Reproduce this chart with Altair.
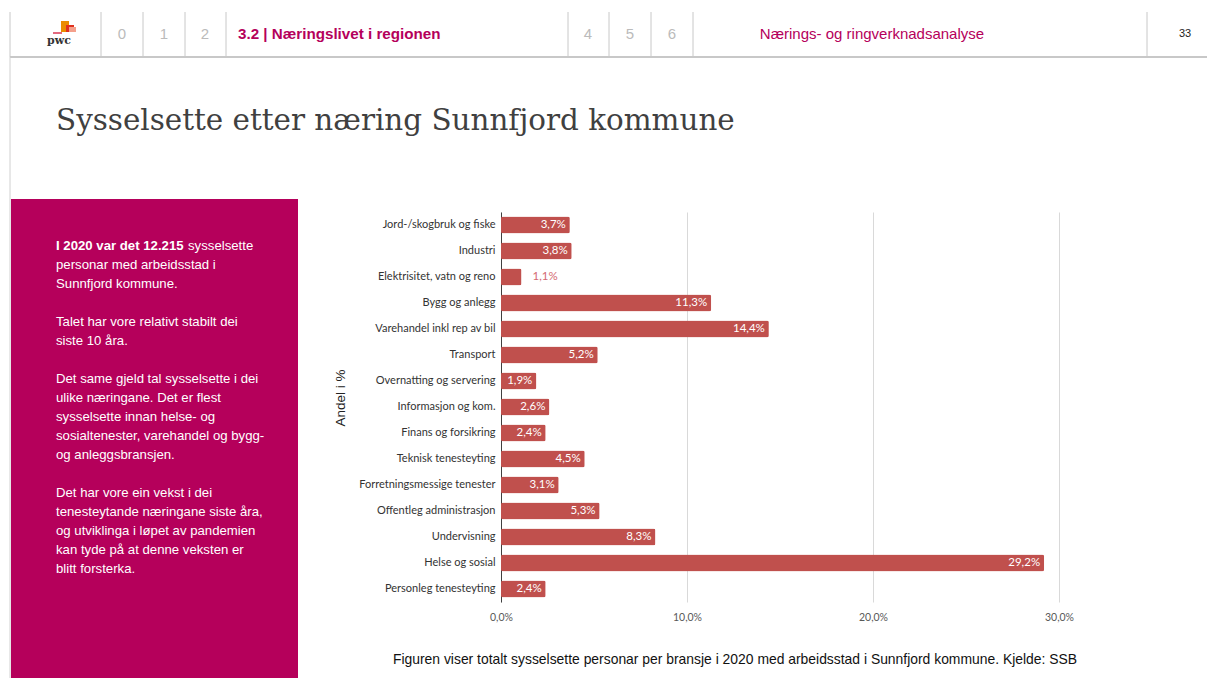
import altair as alt
import pandas as pd

# ---------------- data ----------------
categories = [
    "Jord-/skogbruk og fiske", "Industri", "Elektrisitet, vatn og reno",
    "Bygg og anlegg", "Varehandel inkl rep av bil", "Transport",
    "Overnatting og servering", "Informasjon og kom.", "Finans og forsikring",
    "Teknisk tenesteyting", "Forretningsmessige tenester",
    "Offentleg administrasjon", "Undervisning", "Helse og sosial",
    "Personleg tenesteyting",
]
shares = [3.7, 3.8, 1.1, 11.3, 14.4, 5.2, 1.9, 2.6, 2.4, 4.5, 3.1, 5.3, 8.3, 29.2, 2.4]
x_ticks = [0, 10, 20, 30]

title_text = "Sysselsette etter næring Sunnfjord kommune"
caption_text = ("Figuren viser totalt sysselsette personar per bransje i 2020 "
                "med arbeidsstad i Sunnfjord kommune. Kjelde: SSB")
y_title = "Andel i %"

header_tabs_left = ["0", "1", "2"]
header_active = "3.2 | Næringslivet i regionen"
header_tabs_right = ["4", "5", "6"]
header_section = "Nærings- og ringverknadsanalyse"
page_number = "33"

panel_first_bold = "I 2020 var det 12.215"
panel_first_rest = "sysselsette"
panel_par1 = ["personar med arbeidsstad i", "Sunnfjord kommune."]
panel_par2 = ["Talet har vore relativt stabilt dei", "siste 10 åra."]
panel_par3 = ["Det same gjeld tal sysselsette i dei", "ulike næringane. Det er flest",
              "sysselsette innan helse- og", "sosialtenester, varehandel og bygg-",
              "og anleggsbransjen."]
panel_par4 = ["Det har vore ein vekst i dei", "tenesteytande næringane siste åra,",
              "og utviklinga i løpet av pandemien", "kan tyde på at denne veksten er",
              "blitt forsterka."]

df = pd.DataFrame({"cat": categories, "share": shares})
df["label"] = [f"{v:.1f}".replace(".", ",") + "%" for v in shares]

# ---------------- layout (page pixels) ----------------
OX, OY = 501, 212          # plot-area origin on the page
PW, PH = 558, 390          # plot-area size
MAGENTA = "#B5005B"
BAR = "#C0504D"
SANS = "Liberation Sans"


def px(x):
    return x - OX


def py(y):
    return y - OY


one = pd.DataFrame({"k": [0]})


def rect(x1, y1, x2, y2, color):
    return alt.Chart(one).mark_rect(color=color).encode(
        x=alt.value(px(x1)), x2=alt.value(px(x2)),
        y=alt.value(py(y1)), y2=alt.value(py(y2)))


def rule(x1, y1, x2, y2, color, w=1):
    return alt.Chart(one).mark_rule(color=color, strokeWidth=w).encode(
        x=alt.value(px(x1)), x2=alt.value(px(x2)),
        y=alt.value(py(y1)), y2=alt.value(py(y2)))


def text(x, y, t, **kw):
    return alt.Chart(one).mark_text(text=t, **kw).encode(
        x=alt.value(px(x)), y=alt.value(py(y)))


layers = []

# header
layers.append(rule(10, 57, 1215, 57, "#C8C8C8", 2))
for xv in [10, 101, 143, 185, 226, 568, 609, 651, 693, 1147]:
    layers.append(rule(xv, 12, xv, 57, "#C8C8C8", 1))
layers.append(rule(10, 57, 10, 686, "#D0D0D0", 1))
# pwc logo
layers.append(rect(61, 21, 69, 32, "#EB8C00"))
layers.append(rect(66, 25, 74, 32, "#E0301E"))
layers.append(rect(69, 27, 76, 32, "#F4A08C"))
layers.append(rule(53, 33, 62, 33, "#D93954", 1.5))
layers.append(text(59, 41, "pwc", font="DejaVu Serif", fontSize=11, fontWeight="bold",
                   color="#333333", align="center", baseline="middle"))
for t, xv in zip(header_tabs_left, [122, 164, 205]):
    layers.append(text(xv, 34, t, font=SANS, fontSize=15, color="#BBBBBB",
                       align="center", baseline="middle"))
for t, xv in zip(header_tabs_right, [588, 630, 672]):
    layers.append(text(xv, 34, t, font=SANS, fontSize=15, color="#BBBBBB",
                       align="center", baseline="middle"))
layers.append(text(238, 34, header_active, font=SANS, fontSize=15.2, fontWeight="bold",
                   color=MAGENTA, align="left", baseline="middle"))
layers.append(text(872, 34, header_section, font=SANS, fontSize=15, color=MAGENTA,
                   align="center", baseline="middle"))
layers.append(text(1185, 34, page_number, font=SANS, fontSize=11, color="#222222",
                   align="center", baseline="middle"))

# title
layers.append(text(56, 130, title_text, font="DejaVu Serif", fontSize=29.4,
                   color="#404040", align="left", baseline="alphabetic"))

# side panel
layers.append(rect(11, 199, 298, 686, MAGENTA))
LH = 19
layers.append(text(56, 250, panel_first_bold, font=SANS, fontSize=13.2, fontWeight="bold",
                   color="white", align="left", baseline="alphabetic"))
layers.append(text(188, 250, panel_first_rest, font=SANS, fontSize=13.2,
                   color="white", align="left", baseline="alphabetic"))
for lines, y0 in [(panel_par1, 269), (panel_par2, 326), (panel_par3, 383), (panel_par4, 497)]:
    layers.append(text(56, y0, lines, font=SANS, fontSize=13.2, lineHeight=LH,
                       color="white", align="left", baseline="alphabetic"))

# y title and caption
layers.append(text(341, 398, y_title, font=SANS, fontSize=13.5, color="#222222",
                   angle=270, align="center", baseline="middle"))
layers.append(text(735, 660, caption_text, font=SANS, fontSize=13.9, color="#111111",
                   align="center", baseline="middle"))

# ---------------- bars ----------------
base = alt.Chart(df).encode(
    x=alt.X("share:Q", scale=alt.Scale(domain=[0, 30], nice=False),
            axis=alt.Axis(values=x_ticks, title=None, domain=False, ticks=False,
                          grid=True, gridColor="#D9D9D9", labelFlush=False,
                          labelExpr="replace(format(datum.value, '.1f'), '.', ',') + '%'",
                          labelColor="#595959", labelFont="Lato", labelFontSize=10.5,
                          labelPadding=10)),
    y=alt.Y("cat:N", sort=categories,
            scale=alt.Scale(paddingInner=0.35, paddingOuter=0.175),
            axis=alt.Axis(title=None, ticks=False, domainColor="#404040",
                          labelColor="#333333", labelFont="Lato", labelFontSize=11,
                          labelPadding=6)),
)
bars = base.mark_bar(color=BAR, cornerRadius=2)
inside = base.transform_filter("datum.share >= 1.5").mark_text(
    align="right", dx=-4, color="white", font="Lato", fontSize=11.5
).encode(text="label:N")
outside = base.transform_filter("datum.share < 1.5").mark_text(
    align="left", dx=11, color="#D46A72", font="Lato", fontSize=11.5
).encode(text="label:N")

chart = alt.layer(bars, inside, outside, *layers).properties(
    width=PW, height=PH,
    autosize=alt.AutoSizeParams(type="none"),
    padding={"left": OX - 8, "top": OY - 8, "right": 1199 - (OX - 8) - PW,
             "bottom": 670 - (OY - 8) - PH},
    background="white",
).configure_view(stroke=None)

chart.save("out.html", embed_options={"renderer": "svg", "actions": False})
